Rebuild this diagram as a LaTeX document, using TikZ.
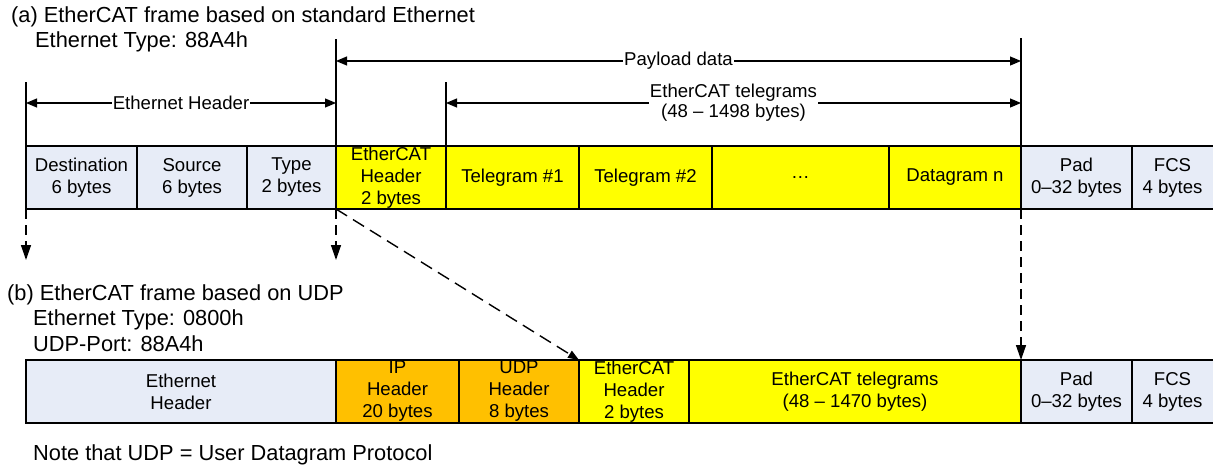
\documentclass[tikz,border=0pt]{standalone}
\usepackage{fontspec}
\setmainfont{Liberation Sans}
\usetikzlibrary{arrows.meta}
\definecolor{hdrblue}{RGB}{231,236,247}
\definecolor{tgyellow}{RGB}{255,255,0}
\definecolor{iporange}{RGB}{255,192,0}
\tikzset{
  cell/.style={draw, line width=1.8pt, minimum height=63pt, inner sep=0pt,
    outer sep=0pt, align=center, anchor=west,
    font=\fontsize{18.6}{22}\selectfont},
  bluecell/.style={cell, fill=hdrblue},
  yelcell/.style={cell, fill=tgyellow},
  orgcell/.style={cell, fill=iporange},
  opencell/.style={cell, draw=none, fill=hdrblue},
  heading/.style={anchor=west, inner sep=0pt, font=\fontsize{21.8}{26}\selectfont},
  vline/.style={line width=1.4pt},
  dropline/.style={line width=1.4pt, dash pattern=on 10pt off 6pt,
    -{Triangle[length=15pt,width=10pt]}},
  mapline/.style={line width=1.4pt, dash pattern=on 13pt off 7pt,
    -{Triangle[length=11pt,width=8pt]}},
  dimarrow/.style={line width=1.2pt,
    {Triangle[length=11pt,width=9pt]}-{Triangle[length=11pt,width=9pt]}},
  dimlabel/.style={fill=white, inner sep=1pt, align=center,
    font=\fontsize{18.6}{20}\selectfont},
}
\begin{document}
\begin{tikzpicture}[x=1pt,y=-1pt]
\useasboundingbox (0,0) rectangle (1213,466);

% headings
\node[heading] (ta) at (11,17) {(a) EtherCAT frame based on standard Ethernet};
\node[heading] (ta2) at (35,42) {Ethernet Type: 88A4h};
\node[heading] (tb) at (7,295) {(b) EtherCAT frame based on UDP};
\node[heading] (tb2) at (33,320) {Ethernet Type: 0800h};
\node[heading] (tb3) at (33,344) {UDP-Port: 88A4h};
\node[heading] (note) at (33,455) {Note that UDP = User Datagram Protocol};

% frame (a)
\node[bluecell, minimum width=111pt] (dst) at (26,177.5) {Destination\\6 bytes};
\node[bluecell, minimum width=110pt] (src) at (137,177.5) {Source\\6 bytes};
\node[bluecell, minimum width=89pt]  (typ) at (247,177.5) {Type\\2 bytes};
\node[yelcell, minimum width=110pt]  (ech) at (336,177.5) {EtherCAT\\Header\\2 bytes};
\node[yelcell, minimum width=133pt]  (tg1) at (446,177.5) {Telegram \#1};
\node[yelcell, minimum width=133pt]  (tg2) at (579,177.5) {Telegram \#2};
\node[yelcell, minimum width=177pt]  (dots) at (712,177.5) {…};
\node[yelcell, minimum width=132pt]  (dgn) at (889,177.5) {Datagram n};
\node[opencell, minimum width=81pt]  (fcs) at (1132,177.5) {FCS\\4 bytes};
\node[bluecell, minimum width=111pt] (pad) at (1021,177.5) {Pad\\0–32 bytes};
\draw[line width=1.8pt] (pad.north east) -- (fcs.north east);
\draw[line width=1.8pt] (pad.south east) -- (fcs.south east);

% frame (b)
\node[bluecell, minimum width=310pt] (eth2) at (26,391.5) {Ethernet\\Header};
\node[orgcell, minimum width=123pt]  (iph) at (336,391.5) {IP\\Header\\20 bytes};
\node[orgcell, minimum width=120pt]  (udp) at (459,391.5) {UDP\\Header\\8 bytes};
\node[yelcell, minimum width=110pt]  (ech2) at (579,391.5) {EtherCAT\\Header\\2 bytes};
\node[yelcell, minimum width=332pt]  (tgs2) at (689,391.5) {EtherCAT telegrams\\(48 – 1470 bytes)};
\node[opencell, minimum width=81pt]  (fcs2) at (1132,391.5) {FCS\\4 bytes};
\node[bluecell, minimum width=111pt] (pad2) at (1021,391.5) {Pad\\0–32 bytes};
\draw[line width=1.8pt] (pad2.north east) -- (fcs2.north east);
\draw[line width=1.8pt] (pad2.south east) -- (fcs2.south east);

% extension lines
\coordinate (v1) at (26,82);
\coordinate (v2) at (336,39);
\coordinate (v3) at (446,82);
\coordinate (v4) at (1021,38);
\draw[vline] (v1) -- (dst.north west);
\draw[vline] (v2) -- (ech.north west);
\draw[vline] (v3) -- (tg1.north west);
\draw[vline] (v4) -- (pad.north west);

% dimension arrows
\coordinate (ehL) at (26,103);
\coordinate (ehR) at (336,103);
\coordinate (plL) at (336,61);
\coordinate (plR) at (1021,61);
\coordinate (tgL) at (446,103);
\coordinate (tgR) at (1021,103);
\draw[dimarrow] (ehL) -- (ehR) node[midway, dimlabel] (ehlbl) {Ethernet Header};
\draw[dimarrow] (plL) -- (plR) node[midway, dimlabel] (pllbl) {Payload data};
\draw[dimarrow] (tgL) -- (tgR) node[midway, dimlabel] (tglbl) {EtherCAT telegrams\\(48 – 1498 bytes)};

% mapping from frame (a) to frame (b)
\coordinate (d1) at (26,260);
\coordinate (d2) at (336,260);
\draw[dropline] (dst.south west) -- (d1);
\draw[dropline] (ech.south west) -- (d2);
\draw[mapline] (ech.south west) -- (ech2.north west);
\draw[dropline] (pad.south west) -- (pad2.north west);
\end{tikzpicture}
\end{document}
